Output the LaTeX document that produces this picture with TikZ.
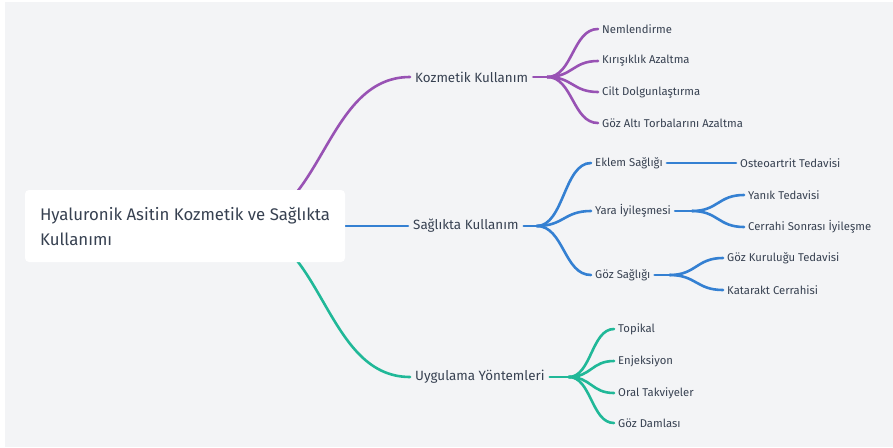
\documentclass[tikz,border=0pt]{standalone}
\usepackage{fontspec}
\setmainfont{Fira Sans}
\usetikzlibrary{calc}
\definecolor{kozcol}{RGB}{152,82,180}
\definecolor{saglcol}{RGB}{52,128,210}
\definecolor{uygcol}{RGB}{32,184,152}
\definecolor{txtcol}{RGB}{55,65,81}
\definecolor{bgcol}{RGB}{243,244,246}
\pgfdeclarelayer{bg}
\pgfdeclarelayer{links}
\pgfsetlayers{bg,links,main}
\tikzset{
  branch/.style={to path={let \p1=(\tikztostart), \p2=(\tikztotarget) in
    .. controls ({(\x1+\x2)/2},\y1) and ({(\x1+\x2)/2},\y2) .. (\tikztotarget)}},
  link/.style={line width=2.6pt, line cap=round},
  rootbox/.style={fill=white, rounded corners=4pt, minimum width=320pt, minimum height=72pt,
    inner xsep=13pt, align=left, text=txtcol,
    font=\fontsize{16.8}{25}\selectfont},
  midnode/.style={anchor=west, inner xsep=5pt, inner ysep=2pt, text=txtcol,
    font=\fontsize{13.4}{15}\selectfont},
  leafnode/.style={anchor=west, inner xsep=4pt, inner ysep=2pt, text=txtcol,
    font=\fontsize{11.3}{13}\selectfont},
}
\begin{document}
\begin{tikzpicture}[x=1pt, y=-1pt]
  \useasboundingbox (0,0) rectangle (893,447);
  \begin{pgfonlayer}{bg}
    \fill[bgcol] (5,2) rectangle (893,447);
  \end{pgfonlayer}

  \node[rootbox] (root) at (185,226) {Hyaluronik Asitin Kozmetik ve Sağlıkta\\Kullanımı};
  \coordinate (hub) at (236,226);

  \node[midnode] (koz) at (410,77) {Kozmetik Kullanım};
  \node[midnode] (sagl) at (408,226) {Sağlıkta Kullanım};
  \node[midnode] (uyg) at (410,377) {Uygulama Yöntemleri};

  \node[leafnode] (nem) at (598,29) {Nemlendirme};
  \node[leafnode] (kir) at (598,61) {Kırışıklık Azaltma};
  \node[leafnode] (cilt) at (598,92) {Cilt Dolgunlaştırma};
  \node[leafnode] (torba) at (598,123) {Göz Altı Torbalarını Azaltma};

  \node[leafnode] (eklem) at (591,163) {Eklem Sağlığı};
  \node[leafnode] (osteo) at (736,163) {Osteoartrit Tedavisi};
  \node[leafnode] (yara) at (591,211) {Yara İyileşmesi};
  \node[leafnode] (yanik) at (744,195) {Yanık Tedavisi};
  \node[leafnode] (cerr) at (744,227) {Cerrahi Sonrası İyileşme};
  \node[leafnode] (gozs) at (591,275) {Göz Sağlığı};
  \node[leafnode] (kuru) at (723,258) {Göz Kuruluğu Tedavisi};
  \node[leafnode] (kata) at (723,290) {Katarakt Cerrahisi};

  \node[leafnode] (top) at (614,329) {Topikal};
  \node[leafnode] (enj) at (614,361) {Enjeksiyon};
  \node[leafnode] (oral) at (614,393) {Oral Takviyeler};
  \node[leafnode] (damla) at (614,423) {Göz Damlası};

  \coordinate (kozj) at ([xshift=14pt]koz.east);
  \coordinate (saglj) at ([xshift=13pt]sagl.east);
  \coordinate (uygj) at ([xshift=19pt]uyg.east);
  \coordinate (yaraj) at ([xshift=17pt]yara.east);
  \coordinate (gozsj) at ([xshift=15pt]gozs.east);

  \begin{pgfonlayer}{links}
    % kozmetik
    \draw[link, kozcol] (hub) to[branch] (koz.west);
    \draw[link, kozcol] (koz.east) -- (kozj);
    \foreach \leaf in {nem, kir, cilt, torba}
      \draw[link, kozcol] (kozj) to[branch] (\leaf.west);
    % saglik
    \draw[link, saglcol] (hub) -- (sagl.west);
    \draw[link, saglcol] (sagl.east) -- (saglj);
    \foreach \leaf in {eklem, yara, gozs}
      \draw[link, saglcol] (saglj) to[branch] (\leaf.west);
    \draw[link, saglcol] (eklem.east) -- (osteo.west);
    \draw[link, saglcol] (yara.east) -- (yaraj);
    \draw[link, saglcol] (yaraj) to[branch] (yanik.west);
    \draw[link, saglcol] (yaraj) to[branch] (cerr.west);
    \draw[link, saglcol] (gozs.east) -- (gozsj);
    \draw[link, saglcol] (gozsj) to[branch] (kuru.west);
    \draw[link, saglcol] (gozsj) to[branch] (kata.west);
    % uygulama
    \draw[link, uygcol] (hub) to[branch] (uyg.west);
    \draw[link, uygcol] (uyg.east) -- (uygj);
    \foreach \leaf in {top, enj, oral, damla}
      \draw[link, uygcol] (uygj) to[branch] (\leaf.west);
  \end{pgfonlayer}
\end{tikzpicture}
\end{document}
